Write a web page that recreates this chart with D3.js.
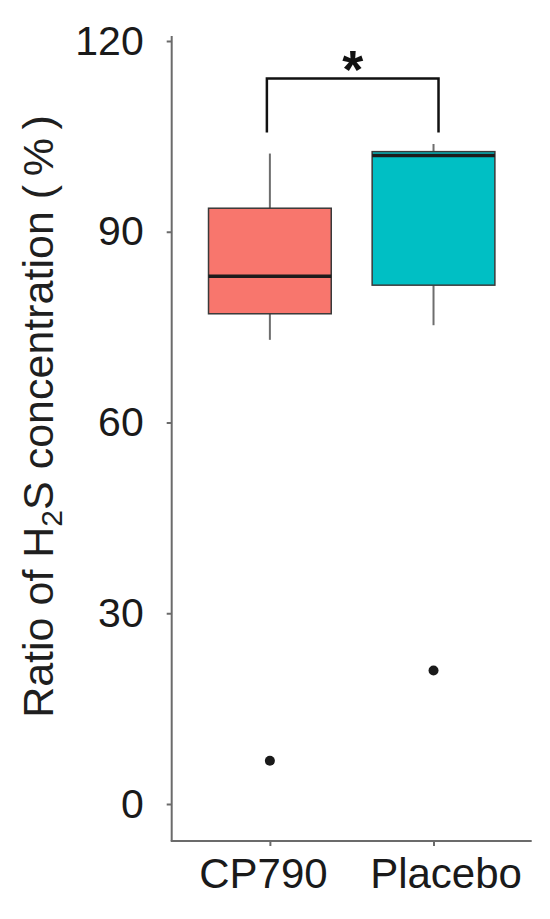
<!DOCTYPE html>
<html>
<head>
<meta charset="utf-8">
<script src="https://cdn.jsdelivr.net/npm/d3@7"></script>
<style>
  html, body { margin: 0; padding: 0; background: #fff; }
  svg { display: block; }
</style>
</head>
<body>
<svg id="chart" width="550" height="919"></svg>
<script>
// ---- data ----
const categories = ["CP790", "Placebo"];
const colors = ["#F8766D", "#00BFC4"];
const whiskerLow = [73.0, 75.3];
const q1 = [77.1, 81.6];
const median = [83.0, 102.0];
const q3 = [93.7, 102.6];
const whiskerHigh = [102.3, 103.8];
const outliers = [6.8, 21.0];
const yTicks = [0, 30, 60, 90, 120];
const bracketLow = 105.6;
const bracketHigh = 114.1;
const sigLabel = "*";

// ---- layout ----
const svg = d3.select("#chart");
const axisX = 171.7, axisRight = 531.7, axisBottomY = 841;
const y = d3.scaleLinear().domain([0, 120]).range([804, 41]);
const x = d3.scalePoint().domain(categories).range([axisX, axisRight]).padding(0.6);
const boxW = x.step() * 0.75;
const font = "'Liberation Sans', Arial, sans-serif";
const labelShift = [-7, 12];

// axes lines
svg.append("line").attr("x1", axisX).attr("x2", axisX).attr("y1", 36).attr("y2", axisBottomY)
  .attr("stroke", "#6b6b6b").attr("stroke-width", 2);
svg.append("line").attr("x1", axisX - 1).attr("x2", axisRight).attr("y1", axisBottomY).attr("y2", axisBottomY)
  .attr("stroke", "#6b6b6b").attr("stroke-width", 2);

// y axis
const gy = svg.append("g").attr("transform", `translate(${axisX},0)`)
  .call(d3.axisLeft(y).tickValues(yTicks).tickSize(5).tickPadding(23));
gy.select(".domain").remove();
gy.selectAll(".tick line").attr("stroke", "#6b6b6b").attr("stroke-width", 2);
gy.selectAll(".tick text").attr("font-family", font).attr("font-size", 41).attr("fill", "#1a1a1a");

// x axis
const gx = svg.append("g").attr("transform", `translate(0,${axisBottomY})`)
  .call(d3.axisBottom(x).tickSize(5).tickPadding(12));
gx.select(".domain").remove();
gx.selectAll(".tick line").attr("stroke", "#6b6b6b").attr("stroke-width", 2);
gx.selectAll(".tick text").attr("font-family", font).attr("font-size", 42).attr("fill", "#1a1a1a")
  .attr("dx", (d, i) => labelShift[i]);

// y title
const title = svg.append("text")
  .attr("transform", `translate(53,${(y(0)+y(120))/2 - 6}) rotate(-90)`)
  .attr("text-anchor", "middle")
  .attr("font-family", font).attr("font-size", 43).attr("fill", "#1f1f1f");
title.append("tspan").text("Ratio of H");
title.append("tspan").text("2").attr("font-size", 30).attr("dy", 9);
title.append("tspan").text("S concentration (\u2009%\u2009)").attr("dy", -9);

// boxes
const idx = d3.range(categories.length);
const g = svg.append("g");
// whiskers
g.selectAll(".wh").data(idx).join("line")
  .attr("x1", i => x(categories[i])).attr("x2", i => x(categories[i]))
  .attr("y1", i => y(q3[i])).attr("y2", i => y(whiskerHigh[i]))
  .attr("stroke", "#6e6e6e").attr("stroke-width", 2);
g.selectAll(".wl").data(idx).join("line")
  .attr("x1", i => x(categories[i])).attr("x2", i => x(categories[i]))
  .attr("y1", i => y(q1[i])).attr("y2", i => y(whiskerLow[i]))
  .attr("stroke", "#6e6e6e").attr("stroke-width", 2);
g.selectAll(".box").data(idx).join("rect")
  .attr("x", i => x(categories[i]) - boxW / 2)
  .attr("width", boxW)
  .attr("y", i => y(q3[i]))
  .attr("height", i => y(q1[i]) - y(q3[i]))
  .attr("fill", i => colors[i])
  .attr("stroke", "#3a3a3a").attr("stroke-width", 1.5);
g.selectAll(".med").data(idx).join("line")
  .attr("x1", i => x(categories[i]) - boxW / 2).attr("x2", i => x(categories[i]) + boxW / 2)
  .attr("y1", i => y(median[i])).attr("y2", i => y(median[i]))
  .attr("stroke", "#1c1c1c").attr("stroke-width", 3.5);
g.selectAll(".out").data(idx).join("circle")
  .attr("cx", i => x(categories[i])).attr("cy", i => y(outliers[i]))
  .attr("r", 5).attr("fill", "#1a1a1a");

// significance bracket
const bx1 = x(categories[0]) - 3, bx2 = x(categories[1]) + 5;
svg.append("path")
  .attr("d", `M${bx1},${y(bracketLow)}V${y(bracketHigh)}H${bx2}V${y(bracketLow)}`)
  .attr("fill", "none").attr("stroke", "#111").attr("stroke-width", 2.5);
svg.append("text").attr("x", (bx1 + bx2) / 2).attr("y", y(bracketHigh) + 9)
  .attr("text-anchor", "middle").attr("font-family", font).attr("font-weight", "bold")
  .attr("font-size", 54).attr("fill", "#111").text(sigLabel);
</script>
</body>
</html>
